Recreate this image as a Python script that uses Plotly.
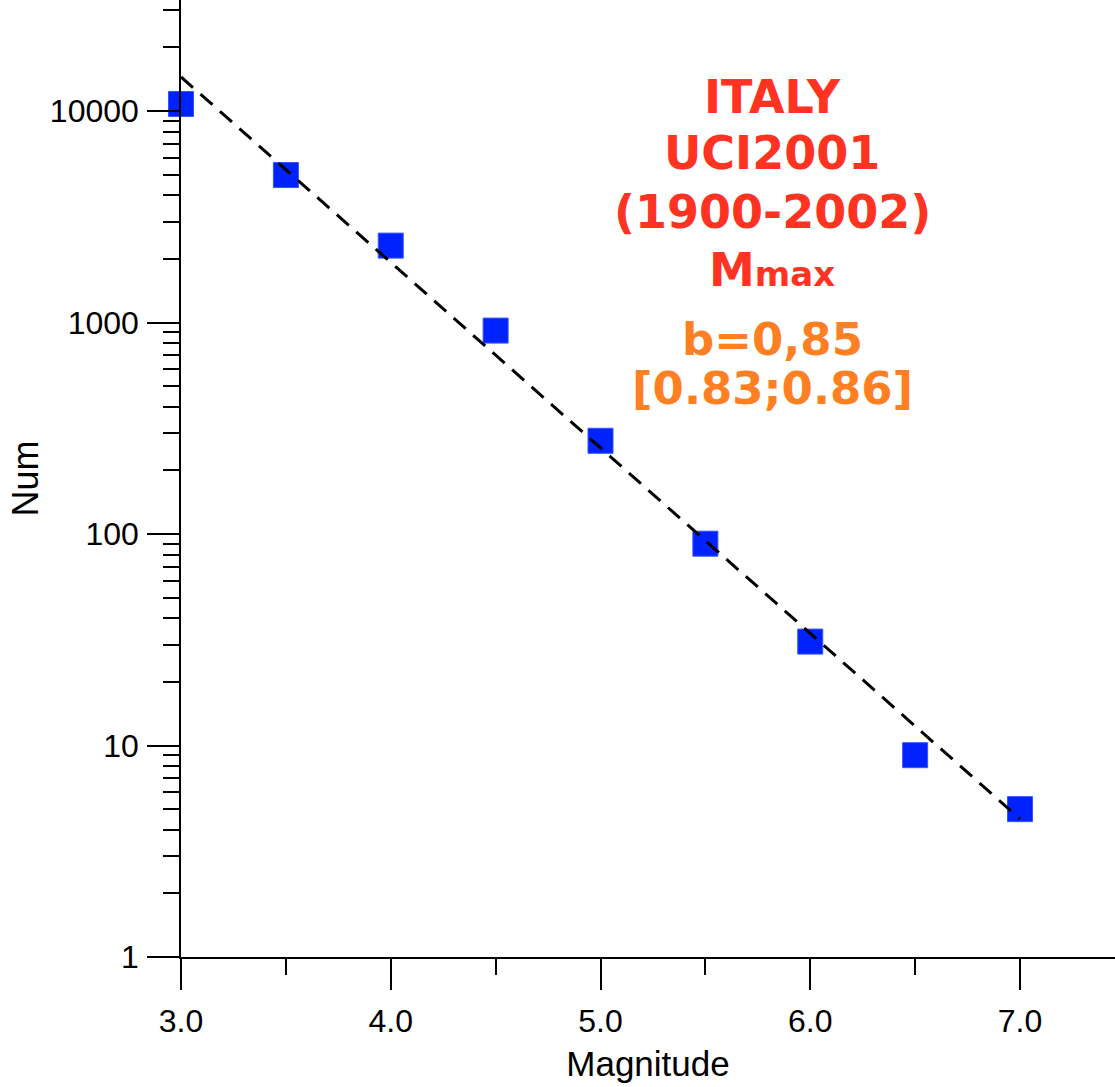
import plotly.graph_objects as go

# Data
magnitude = [3.0, 3.5, 4.0, 4.5, 5.0, 5.5, 6.0, 6.5, 7.0]
counts = [10800, 4980, 2310, 916, 276, 90, 31, 9, 5]

fit_x = [3.0, 7.0]
fit_y = [14500, 4.5]

y_tickvals = [1, 10, 100, 1000, 10000]
y_ticktext = ["1", "10", "100", "1000", "10000"]
x_tickvals = [3.0, 4.0, 5.0, 6.0, 7.0]
x_ticktext = ["3.0", "4.0", "5.0", "6.0", "7.0"]

red_lines = ["ITALY", "UCI2001", "(1900-2002)", "M<span style='font-size:34px'>max</span>"]
orange_lines = ["b=0,85", "[0.83;0.86]"]

W, H = 1115, 1087
ML, MB = 181, 130
PH = H - MB
PW = W - ML

fig = go.Figure()
fig.add_trace(go.Scatter(
    x=magnitude, y=counts, mode="markers",
    marker=dict(symbol="square", size=25, color="#0022FF",
                line=dict(color="#3355FF", width=1)),
    cliponaxis=False, showlegend=False))
fig.add_trace(go.Scatter(
    x=fit_x, y=fit_y, mode="lines",
    line=dict(color="black", width=3, dash="16px,10px"),
    cliponaxis=False, showlegend=False))

font_txt = "Liberation Sans, Arial, sans-serif"

fig.update_xaxes(
    range=[3, 3 + PW / 209.75],
    tickvals=x_tickvals, ticktext=x_ticktext,
    ticks="outside", ticklen=31, tickwidth=1.5, tickcolor="black",
    minor=dict(ticks="outside", ticklen=16, tickwidth=1.5, tickcolor="black", dtick=0.5, showgrid=False),
    showline=True, linecolor="black", linewidth=1.5,
    showgrid=False, zeroline=False,
    tickfont=dict(family=font_txt, size=32, color="black"),
    ticklabelstandoff=4,
    title=dict(text="Magnitude", font=dict(family=font_txt, size=35, color="black"), standoff=13),
)
fig.update_yaxes(
    type="log", range=[0, 4.525],
    tickvals=y_tickvals, ticktext=y_ticktext,
    ticks="outside", ticklen=32, tickwidth=1.5, tickcolor="black",
    minor=dict(ticks="outside", ticklen=16, tickwidth=1.5, tickcolor="black", dtick="D1", showgrid=False),
    showline=True, linecolor="black", linewidth=1.5,
    showgrid=False, zeroline=False,
    tickfont=dict(family=font_txt, size=32, color="black"),
    ticklabelstandoff=2,
    title=dict(text="Num", font=dict(family=font_txt, size=36, color="black"), standoff=0),
)

xc = (772 - ML) / PW
red_y = [97, 153, 212, 270]
orange_y = [340, 389]
anns = []
for t, py in zip(red_lines, red_y):
    anns.append(dict(text=t, x=xc, y=1 - py / PH, xref="paper", yref="paper",
                     xanchor="center", yanchor="middle", showarrow=False,
                     font=dict(family="DejaVu Sans", size=46, color="#FF3322", weight="bold")))
for t, py in zip(orange_lines, orange_y):
    anns.append(dict(text=t, x=xc, y=1 - py / PH, xref="paper", yref="paper",
                     xanchor="center", yanchor="middle", showarrow=False,
                     font=dict(family="DejaVu Sans", size=45, color="#FF8022", weight="bold")))

fig.update_layout(
    width=W, height=H,
    margin=dict(l=ML, r=0, t=0, b=MB),
    plot_bgcolor="white", paper_bgcolor="white",
    annotations=anns,
)

fig.write_html("out.html")
